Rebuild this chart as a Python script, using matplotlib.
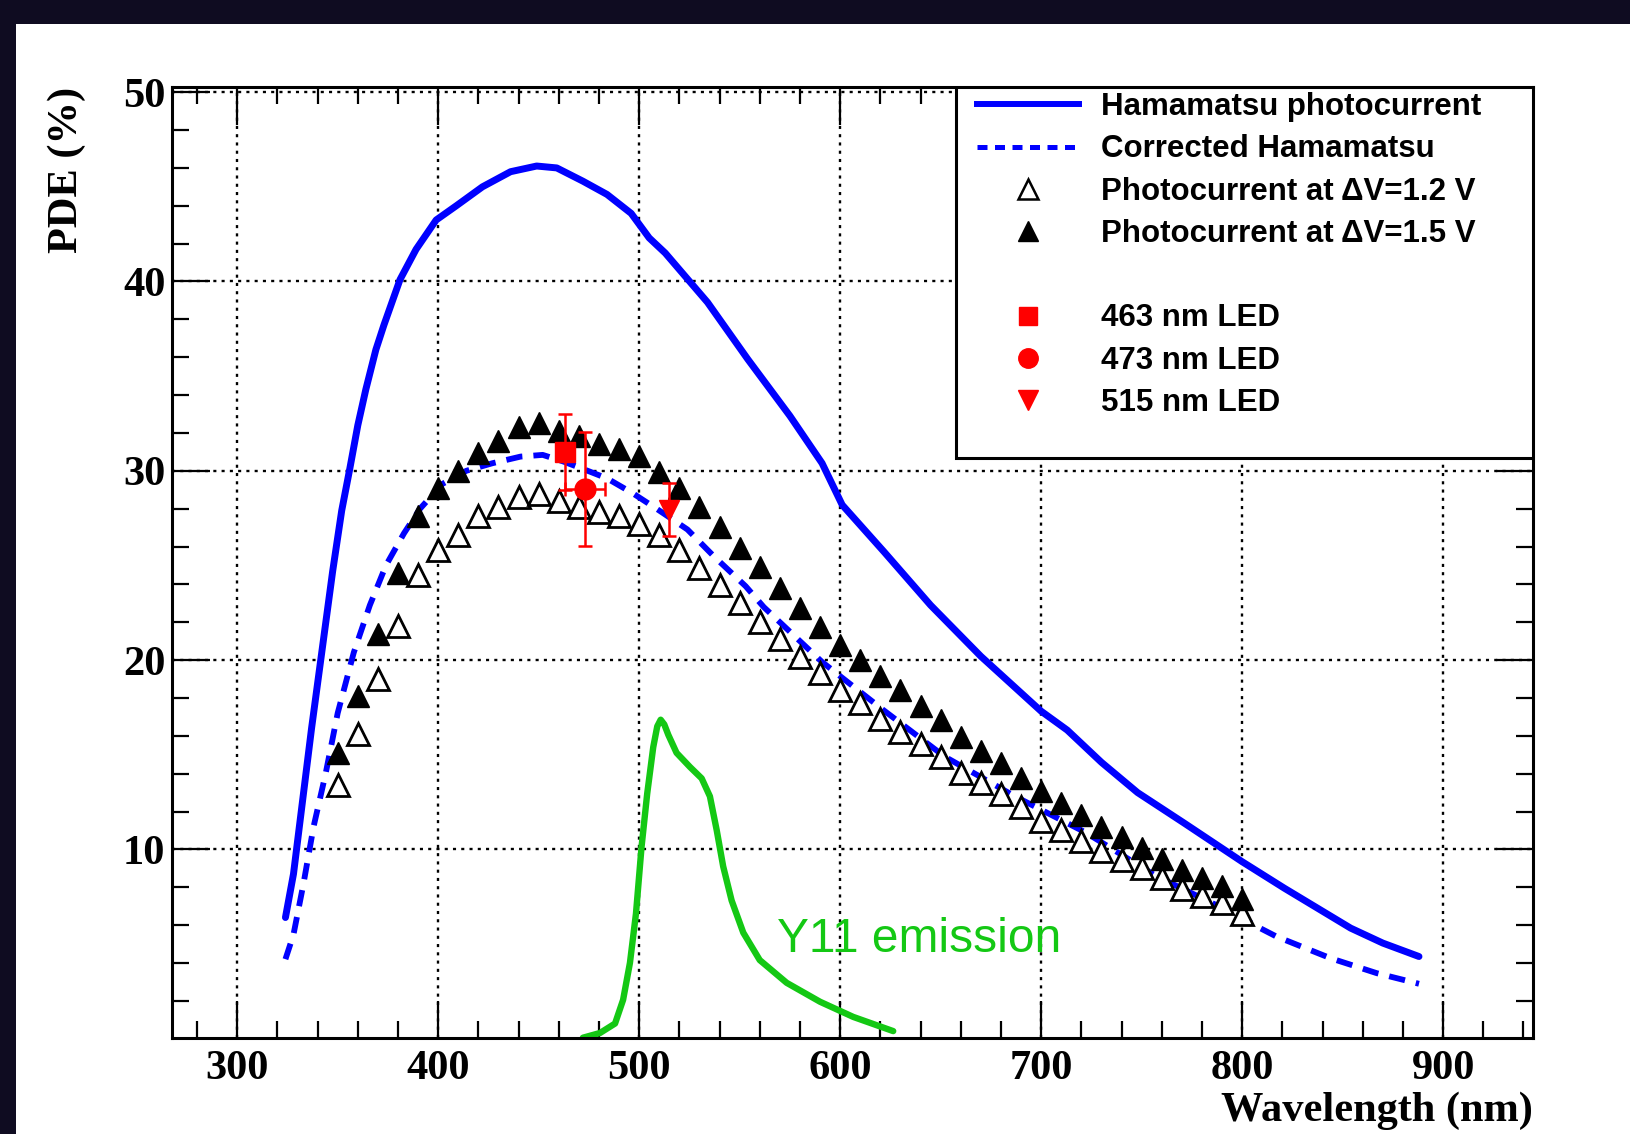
import matplotlib
matplotlib.use("Agg")
import matplotlib.pyplot as plt
from matplotlib.patches import Rectangle
from matplotlib.ticker import MultipleLocator

# Hamamatsu photocurrent (solid)
ham_wl = [324, 328, 337, 347.5, 352, 356, 360, 364, 369, 373, 381, 389, 399, 409, 422, 436,
          449, 459, 472, 484, 496, 505, 513, 534, 554, 575, 591, 601, 622, 645, 670, 700,
          713, 722, 730, 748, 771, 800, 821, 854, 870, 888]
ham_pde = [6.4, 8.7, 16.4, 24.7, 27.9, 30.1, 32.4, 34.3, 36.4, 37.7, 40.1, 41.7, 43.25, 44.0, 45.0, 45.8,
           46.1, 46.0, 45.3, 44.6, 43.6, 42.3, 41.5, 38.9, 35.9, 32.9, 30.4, 28.2, 25.7, 22.9, 20.2, 17.3,
           16.3, 15.4, 14.6, 13.0, 11.4, 9.35, 7.95, 5.84, 5.05, 4.34]

# Corrected Hamamatsu (dashed)
cor_wl = [324, 328, 333, 338, 344, 350, 358, 366, 374, 383, 391, 402, 414, 427, 441, 452,
          462, 472, 484, 497, 510, 524, 537, 553, 562, 591, 621, 652, 687, 722, 757, 800,
          806, 817, 844, 867, 888]
cor_pde = [4.2, 5.5, 8.2, 11.2, 14.0, 17.2, 20.4, 22.9, 25.0, 26.7, 28.0, 29.3, 30.0, 30.4, 30.75, 30.84,
           30.5, 30.1, 29.6, 28.8, 27.9, 26.9, 25.5, 23.9, 22.8, 19.9, 17.4, 14.9, 12.8, 10.9, 8.6, 6.4,
           6.0, 5.4, 4.25, 3.46, 2.9]

# photocurrent measurements
tri_wl = [350, 360, 370, 380, 390, 400, 410, 420, 430, 440, 450, 460, 470, 480, 490, 500,
          510, 520, 530, 540, 550, 560, 570, 580, 590, 600, 610, 620, 630, 640, 650, 660,
          670, 680, 690, 700, 710, 720, 730, 740, 750, 760, 770, 780, 790, 800]
pde_12 = [13.4, 16.1, 19.0, 21.8, 24.5, 25.8, 26.6, 27.6, 28.1, 28.6, 28.8, 28.4, 28.1, 27.8, 27.6, 27.2,
          26.6, 25.8, 24.85, 23.95, 23.0, 22.0, 21.1, 20.15, 19.3, 18.4, 17.75, 16.9, 16.2, 15.55, 14.9, 14.05,
          13.5, 12.9, 12.25, 11.5, 11.0, 10.45, 9.9, 9.45, 9.0, 8.5, 7.9, 7.55, 7.15, 6.6]
pde_15 = [15.1, 18.1, 21.4, 24.6, 27.6, 29.1, 30.0, 30.95, 31.6, 32.3, 32.5, 32.1, 31.85, 31.4, 31.15, 30.8,
          29.95, 29.1, 28.1, 27.05, 25.9, 24.9, 23.8, 22.75, 21.75, 20.8, 20.0, 19.15, 18.4, 17.55, 16.85, 15.95,
          15.2, 14.55, 13.75, 13.1, 12.45, 11.8, 11.2, 10.65, 10.05, 9.5, 8.9, 8.5, 8.05, 7.4]

# LED points: wavelength, PDE, x error, y error
led_wl = [463, 473, 515]
led_pde = [31.0, 29.05, 27.95]
led_xerr = [0, 10, 0]
led_yerr = [2.0, 3.0, 1.4]
led_labels = ["463 nm LED", "473 nm LED", "515 nm LED"]
led_markers = ["s", "o", "v"]

# Y11 emission spectrum (arbitrary scale)
y11_wl = [472, 480.5, 488, 492, 495.4, 498.4, 501.2, 504, 507, 509, 510.7, 512.5, 514.5, 518.6, 525.3, 531.1,
          535.2, 538.6, 541.8, 546, 551.8, 560, 573.4, 590, 606.5, 626.4]
y11_val = [0.05, 0.3, 0.8, 2.05, 4.0, 6.6, 10.15, 12.95, 15.4, 16.5, 16.85, 16.6, 16.05, 15.1, 14.35, 13.75,
           12.8, 11.0, 9.1, 7.3, 5.6, 4.15, 2.95, 1.95, 1.15, 0.4]

blue = "#0000ff"
green = "#14c814"
serif = {"family": "Liberation Serif", "weight": "bold", "size": 30.5}
sans_b = {"family": "Liberation Sans", "weight": "bold", "size": 22.5}

fig = plt.figure(figsize=(16.3, 11.34), dpi=100)
fig.patch.set_facecolor("white")
# dark slide border
fig.add_artist(Rectangle((0, 1 - 24 / 1134), 1, 24 / 1134, transform=fig.transFigure,
                         facecolor="#0f0c21", edgecolor="none"))
fig.add_artist(Rectangle((0, 0), 16 / 1630, 1, transform=fig.transFigure,
                         facecolor="#0f0c21", edgecolor="none"))

ax = fig.add_axes([0.1057, 0.0849, 0.8350, 0.8388])
ax.set_axisbelow(True)

ax.plot(ham_wl, ham_pde, color=blue, lw=5, solid_joinstyle="round", solid_capstyle="round", zorder=2)
ax.plot(cor_wl, cor_pde, color=blue, lw=4.2, dashes=(2.8, 1.9), zorder=2)
ax.plot(y11_wl, y11_val, color=green, lw=4.6, solid_joinstyle="round", solid_capstyle="round", zorder=2)
ax.plot(tri_wl, pde_12, ls="none", marker="^", ms=16, mfc="white", mec="black", mew=2, zorder=3)
ax.plot(tri_wl, pde_15, ls="none", marker="^", ms=16, mfc="black", mec="black", zorder=4)
for w, p, xe, ye, m in zip(led_wl, led_pde, led_xerr, led_yerr, led_markers):
    ax.errorbar(w, p, xerr=xe if xe else None, yerr=ye, fmt=m, color="red", ms=15 if m != "s" else 14,
                elinewidth=1.8, capsize=5, capthick=1.8, zorder=5)

ax.text(568.5, 4.6, "Y11 emission", color=green, family="Liberation Sans", fontsize=34.5, va="baseline")

ax.set_xlim(267.7, 944.9)
ax.set_ylim(0.05, 50.3)
ax.xaxis.set_major_locator(MultipleLocator(100))
ax.xaxis.set_minor_locator(MultipleLocator(20))
ax.yaxis.set_major_locator(MultipleLocator(10))
ax.yaxis.set_minor_locator(MultipleLocator(2))
ax.tick_params(which="both", direction="in", top=True, right=True, width=1.6, color="black")
ax.tick_params(which="major", length=27)
ax.tick_params(which="minor", length=12)
ax.tick_params(axis="x", pad=8.5)
ax.tick_params(axis="y", pad=5)
for lab in ax.get_xticklabels() + ax.get_yticklabels():
    lab.set_fontproperties(matplotlib.font_manager.FontProperties(**serif))
for s in ax.spines.values():
    s.set_linewidth(2.2)
ax.grid(which="major", color="black", lw=1.7, ls=(0, (1.3, 2.2)))

ax.set_xlabel("Wavelength (nm)", loc="right", **serif)
ax.xaxis.set_label_coords(1.0, -0.0873)
ax.xaxis.label.set_verticalalignment("baseline")
ax.set_ylabel("PDE (%)", loc="top", **serif)
ax.yaxis.set_label_coords(-0.0702, 1.0)
ax.yaxis.label.set_verticalalignment("baseline")

# legend box drawn by hand to follow the original layout
ax.add_patch(Rectangle((0.5758, 0.6091), 0.4242, 0.3909, transform=ax.transAxes,
                       facecolor="white", edgecolor="black", lw=2.2, zorder=6))
row0, pitch = 0.9813, 0.04447
hx0, hx1, mx, tx = 0.5911, 0.6664, 0.6286, 0.6825
entries = [
    (0, "Hamamatsu photocurrent", dict(color=blue, lw=4.3)),
    (1, "Corrected Hamamatsu", dict(color=blue, lw=3.6, dashes=(2, 1.5))),
    (2, "Photocurrent at \u0394V=1.2 V", dict(ls="none", marker="^", ms=15, mfc="white", mec="black", mew=1.8)),
    (3, "Photocurrent at \u0394V=1.5 V", dict(ls="none", marker="^", ms=15, mfc="black", mec="black")),
]
for i, (lab, m) in enumerate(zip(led_labels, led_markers)):
    entries.append((5 + i, lab, dict(ls="none", marker=m, ms=14 if m != "s" else 13, color="red")))
for row, label, style in entries:
    y = row0 - row * pitch
    if style.get("ls") == "none":
        ax.plot([mx], [y], transform=ax.transAxes, clip_on=False, zorder=7, **style)
    else:
        ax.plot([hx0, hx1], [y, y], transform=ax.transAxes, clip_on=False, zorder=7, **style)
    ax.text(tx, y - 0.0112, label, transform=ax.transAxes, va="baseline", zorder=7, **sans_b)

fig.savefig("out.png", dpi=100)
